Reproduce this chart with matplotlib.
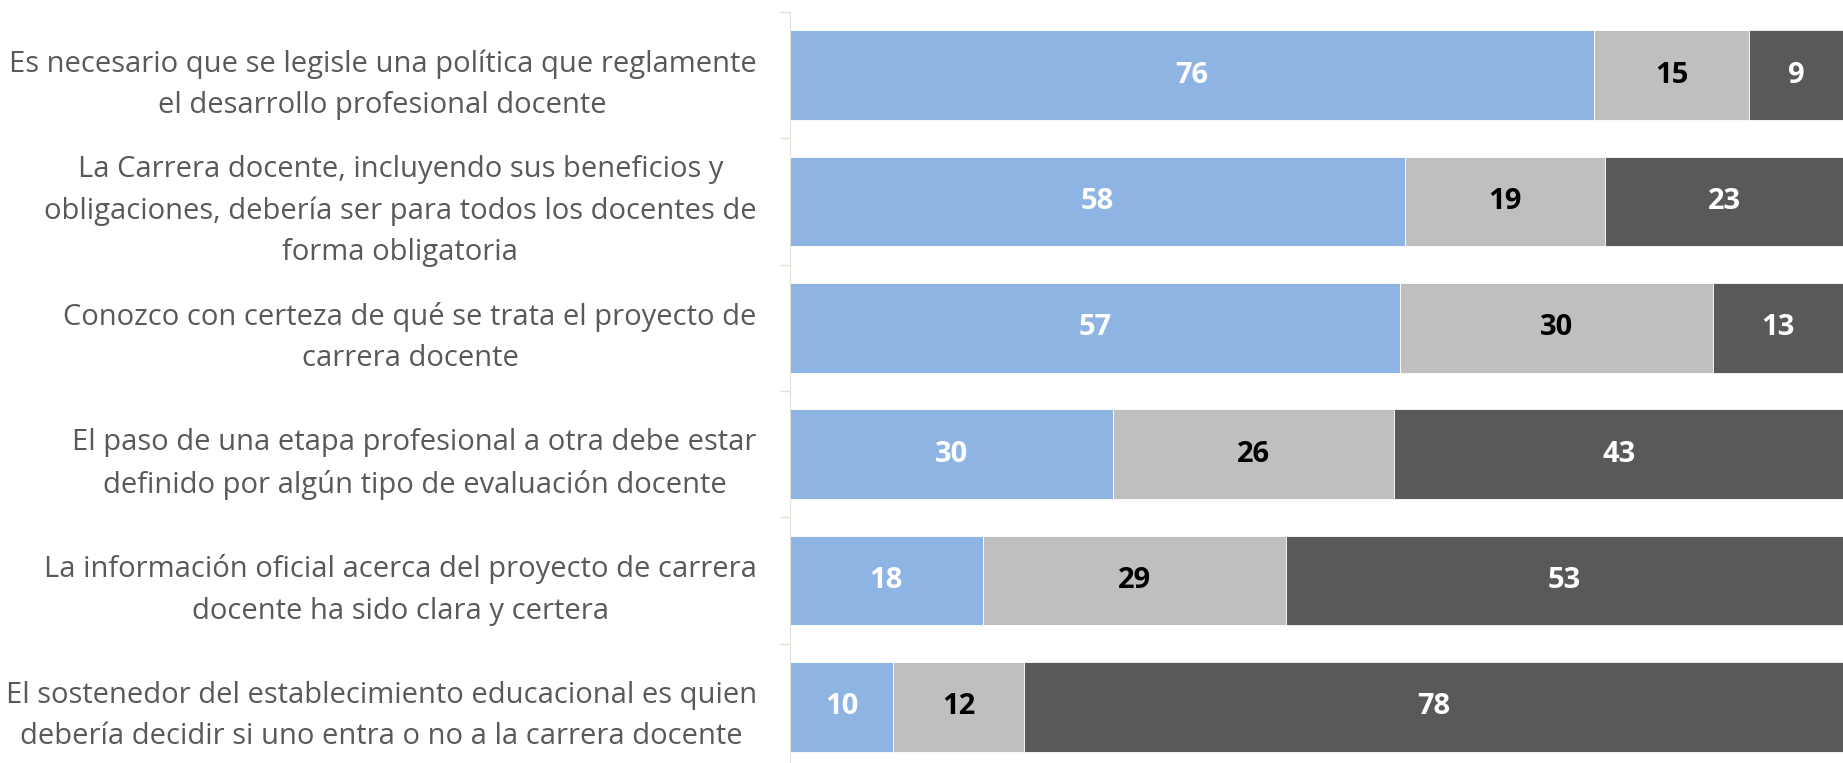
import numpy as np
import matplotlib.pyplot as plt

# Datos (porcentajes)
preguntas = [
    'Es necesario que se legisle una política que reglamente\nel desarrollo profesional docente',
    'La Carrera docente, incluyendo sus beneficios y\nobligaciones, debería ser para todos los docentes de\nforma obligatoria',
    'Conozco con certeza de qué se trata el proyecto de\ncarrera docente',
    'El paso de una etapa profesional a otra debe estar\ndefinido por algún tipo de evaluación docente',
    'La información oficial acerca del proyecto de carrera\ndocente ha sido clara y certera',
    'El sostenedor del establecimiento educacional es quien\ndebería decidir si uno entra o no a la carrera docente',
]
de_acuerdo = [76.4, 58.4, 57.9, 30.7, 18.3, 9.8]
indiferente = [14.7, 19.0, 29.8, 26.7, 28.8, 12.4]
desacuerdo = [8.9, 22.6, 12.3, 42.6, 52.9, 77.8]

# Etiquetas tal como aparecen en las barras
etq_acuerdo = [76, 58, 57, 30, 18, 10]
etq_indiferente = [15, 19, 30, 26, 29, 12]
etq_desacuerdo = [9, 23, 13, 43, 53, 78]

colores = ['#8EB4E3', '#BFBFBF', '#595959']
color_texto = ['white', 'black', 'white']

plt.rcParams['font.family'] = ['Open Sans', 'DejaVu Sans']

fig = plt.figure(figsize=(18.43, 7.63), dpi=100)
ax = fig.add_axes([790 / 1843, -7 / 763, 1 - 790 / 1843, 758 / 763])

y = np.arange(len(preguntas))
izq = np.zeros(len(preguntas))
series = [(de_acuerdo, etq_acuerdo), (indiferente, etq_indiferente), (desacuerdo, etq_desacuerdo)]
for (serie, etq), color, tcol in zip(series, colores, color_texto):
    vals = np.array(serie)
    barras = ax.barh(y, vals, left=izq, height=0.71, color=color,
                     edgecolor='white', linewidth=0.6)
    ax.bar_label(barras, labels=[str(v) for v in etq], label_type='center',
                 color=tcol, fontsize=21, fontweight='bold')
    izq += vals

ax.set_xlim(0, 100)
ax.set_ylim(len(preguntas) - 0.5, -0.5)
ax.set_yticks(y)
ax.set_yticklabels(preguntas, fontsize=21, color='#595959',
                   multialignment='center', linespacing=1.55)
ax.set_yticks(np.arange(len(preguntas) + 1) - 0.5, minor=True)
ax.tick_params(axis='y', which='major', length=0, pad=24)
ax.tick_params(axis='y', which='minor', length=7, color='#E3E0D6', width=1)
ax.set_xticks([])

for s in ['top', 'right', 'bottom']:
    ax.spines[s].set_visible(False)
ax.spines['left'].set_color('#E3E0D6')

fig.savefig('out.png', dpi=100)
